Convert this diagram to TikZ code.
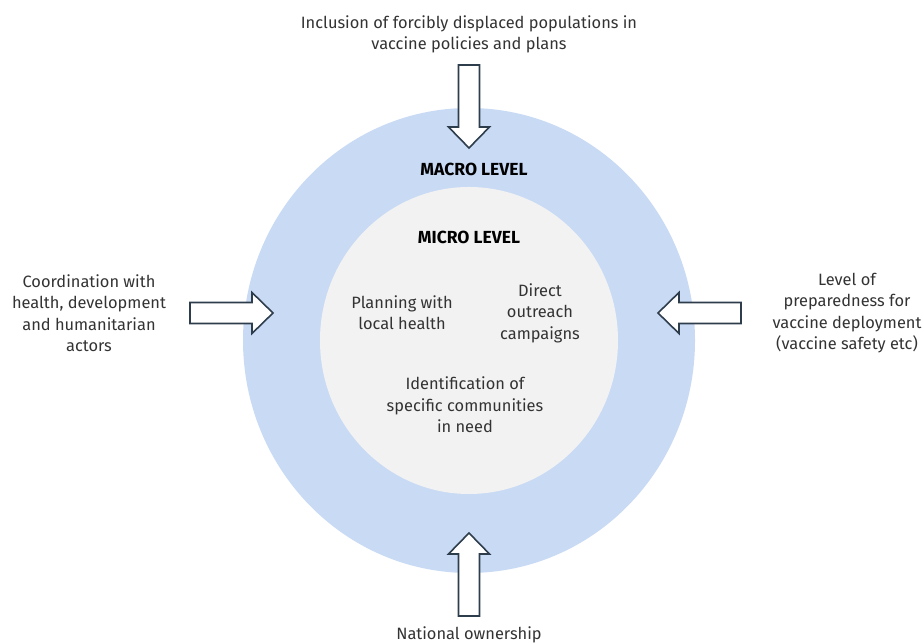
\documentclass[tikz,border=0pt]{standalone}
\usepackage{fontspec}
\setmainfont{Fira Sans}
\usepackage{tikz}
\usetikzlibrary{positioning, shapes.geometric}

\definecolor{macroblue}{HTML}{C9DAF5}
\definecolor{microgray}{HTML}{F2F2F2}
\definecolor{arrowdark}{HTML}{2E3D4C}
\definecolor{textgray}{HTML}{333333}

\begin{document}
\begin{tikzpicture}[
    x=1pt, y=1pt,
    txt/.style={align=center, text=textgray, font=\fontsize{16.4}{21.5}\selectfont},
    level/.style={align=center, text=black, font=\fontsize{17.5}{20}\selectfont\bfseries},
    ring/.style={ellipse, inner sep=0pt},
    arrowline/.style={draw=arrowdark, line width=1.6pt, fill=white, line join=miter},
    blockarrow/.pic={\path[arrowline] (0,0) -- (-21,20.5) -- (-21,10.5) -- (-83,10.5) -- (-83,-10.5) -- (-21,-10.5) -- (-21,-20.5) -- cycle;},
]
\useasboundingbox (0,0) rectangle (924,644);

% Draw the two levels
\node[ring, fill=macroblue, minimum width=452pt, minimum height=465pt] (macro) at (469,303.5) {};
\node[ring, fill=microgray, minimum width=298pt, minimum height=307pt] (micro) at (469,303.5) {};
\node[level] (macrot) at (474,475) {MACRO LEVEL};
\node[level] (microt) at (469,407) {MICRO LEVEL};

% Draw the micro level actions
\node[txt] (plan) at (402,331.5) {Planning with\\local health};
\node[txt] (direct) at (540,331) {Direct\\outreach\\campaigns};
\node[txt] (ident) at (465,239) {Identification of\\specific communities\\in need};

% Draw the outside factors
\node[txt] (incl) at (469,609.5) {Inclusion of forcibly displaced populations in\\vaccine policies and plans};
\node[txt] (coord) at (89,331) {Coordination with\\health, development\\and humanitarian\\actors};
\node[txt] (prep) at (847,331) {Level of\\preparedness for\\vaccine deployment\\(vaccine safety etc)};
\node[txt] (nat) at (469,9) {National ownership};

% Draw the arrows into the circle
\coordinate (intop) at (469,496);
\coordinate (inleft) at (273,331);
\coordinate (inright) at (658,331);
\coordinate (inbottom) at (469,111);
\pic[rotate=-90] at (intop) {blockarrow};
\pic at (inleft) {blockarrow};
\pic[rotate=180] at (inright) {blockarrow};
\pic[rotate=90] at (inbottom) {blockarrow};

\end{tikzpicture}
\end{document}
